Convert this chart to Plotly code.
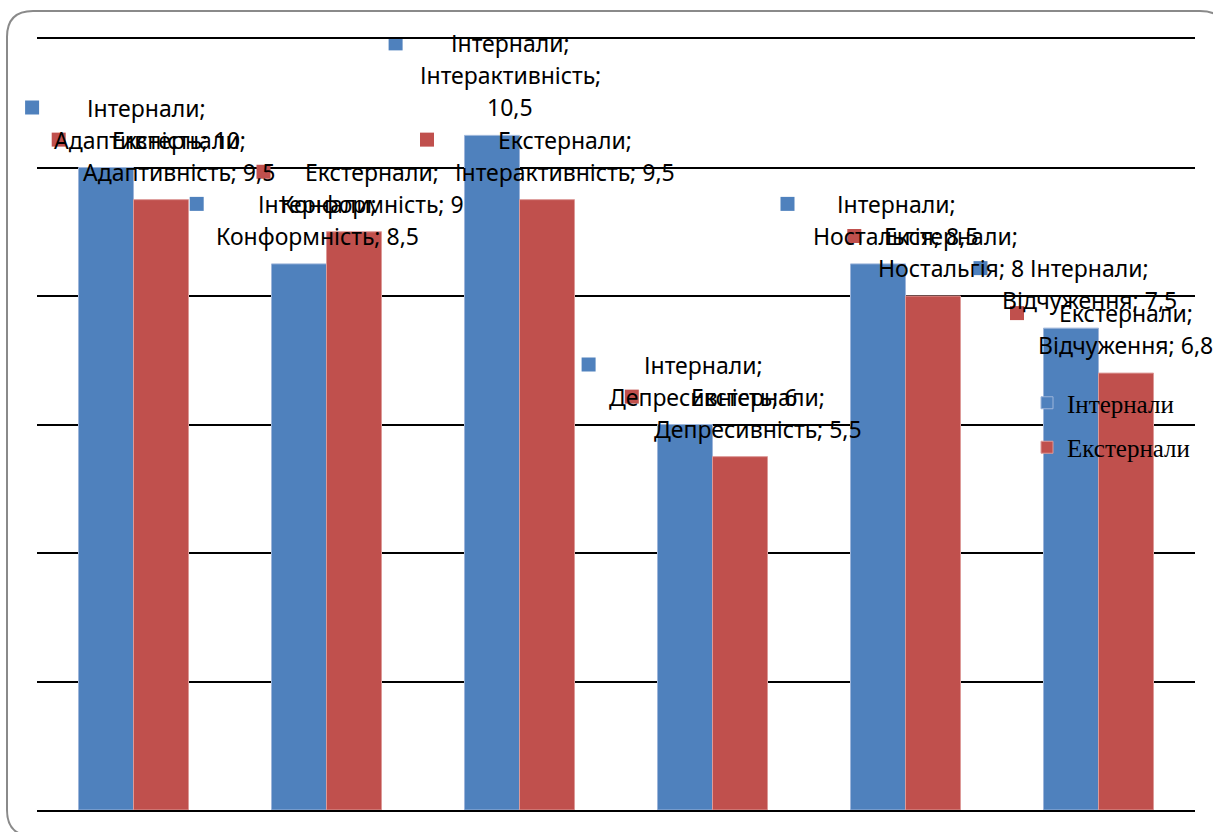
import plotly.graph_objects as go

categories = ["Адаптивність", "Конформність", "Інтерактивність", "Депресивність", "Ностальгія", "Відчуження"]
series_names = ["Інтернали", "Екстернали"]
internals = [10, 8.5, 10.5, 6, 8.5, 7.5]
externals = [9.5, 9, 9.5, 5.5, 8, 6.8]
colors = ["#4F81BD", "#C0504D"]
edge_colors = ["#9DB5DA", "#DD9A98"]

W, H = 1213, 832
ML, MR, MT, MB = 37, 18, 39, 22
PW, PH = W - ML - MR, H - MT - MB
N = len(categories)

fig = go.Figure()
for name, vals, col, ecol in zip(series_names, [internals, externals], colors, edge_colors):
    fig.add_trace(go.Bar(
        x=categories, y=vals, name=name, legendgroup=name,
        marker=dict(color=col, line=dict(color=ecol, width=1)),
        hoverinfo="skip",
    ))

def fmt(v):
    return ("%g" % v).replace(".", ",")

LABEL_FONT = dict(family="Noto Sans", size=23, color="#000000")
LINE_H = 32
BOTTOM_GAP = 28
CHAR_W = 11.8
# horizontal offset of the label centre from the category centre (pixels)
base_shift = [-9.5, 45.5]
overrides = {(0, 0): 13, (1, 5): 27}

shapes = []
annotations = []
for si, (sname, vals) in enumerate(zip(series_names, [internals, externals])):
    for ci, (cat, v) in enumerate(zip(categories, vals)):
        line2 = f"{cat}; {fmt(v)}"
        if len(line2) > 20:
            lines = [sname + ";", cat + ";", fmt(v)]
        else:
            lines = [sname + ";", line2]
        xs = overrides.get((si, ci), base_shift[si])
        n = len(lines)
        for k, ln in enumerate(lines):
            annotations.append(dict(
                x=cat, y=v, xref="x", yref="y", text=ln, showarrow=False,
                xanchor="center", yanchor="middle",
                xshift=xs, yshift=BOTTOM_GAP + LINE_H * (n - 1 - k),
                font=LABEL_FONT,
            ))
        maxlen = max(len(l) for l in lines)
        mx = xs - maxlen * CHAR_W / 2 - 20
        my = BOTTOM_GAP + LINE_H * (n - 1)
        shapes.append(dict(
            type="rect", xref="paper", yref="y",
            xsizemode="pixel", ysizemode="pixel",
            xanchor=(ci + 0.5) / N, yanchor=v,
            x0=mx - 7, x1=mx + 7, y0=my - 7, y1=my + 7,
            fillcolor=colors[si], line=dict(width=0), layer="above",
        ))

# rounded outer frame (paper coords)
def px2paper_x(px):
    return (px - ML) / PW

def px2paper_y(py):
    return (H - MB - py) / PH

fx0, fx1 = px2paper_x(7), px2paper_x(1226)
fy1, fy0 = px2paper_y(11), px2paper_y(836)
rx, ry = 26 / PW, 26 / PH
path = (f"M{fx0+rx},{fy1} L{fx1-rx},{fy1} Q{fx1},{fy1} {fx1},{fy1-ry} "
        f"L{fx1},{fy0+ry} Q{fx1},{fy0} {fx1-rx},{fy0} "
        f"L{fx0+rx},{fy0} Q{fx0},{fy0} {fx0},{fy0+ry} "
        f"L{fx0},{fy1-ry} Q{fx0},{fy1} {fx0+rx},{fy1} Z")
shapes.append(dict(type="path", xref="paper", yref="paper", path=path,
                   line=dict(color="#8A8A8A", width=2), fillcolor="rgba(0,0,0,0)",
                   layer="below"))

fig.update_layout(
    width=W, height=H,
    margin=dict(l=ML, r=MR, t=MT, b=MB, pad=0),
    paper_bgcolor="white", plot_bgcolor="white",
    barmode="group", bargap=0.43, bargroupgap=0,
    showlegend=True,
    legend=dict(
        x=px2paper_x(1027), y=px2paper_y(380), xanchor="left", yanchor="top",
        font=dict(family="Liberation Serif", size=25, color="#000000"),
        bgcolor="rgba(0,0,0,0)", traceorder="grouped", tracegroupgap=9,
        itemwidth=30,
    ),
    xaxis=dict(range=[-0.5, N - 0.5], autorange=False,
               showticklabels=False, showgrid=False, zeroline=False,
               showline=True, mirror=True, linecolor="#000000", linewidth=2,
               ticks=""),
    yaxis=dict(range=[0, 12], dtick=2, showticklabels=False, showgrid=True,
               gridcolor="#000000", gridwidth=2, zeroline=False,
               showline=False, ticks=""),
    shapes=shapes,
    annotations=annotations,
)

fig.write_html("out.html", config={"displayModeBar": False},
               post_script="document.body.style.margin='0';document.body.style.padding='0';")
